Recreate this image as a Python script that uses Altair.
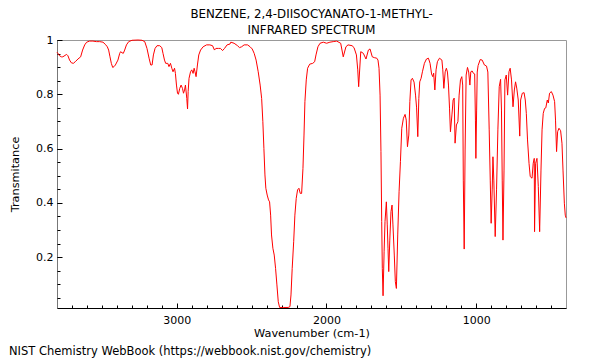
import altair as alt
import pandas as pd

title_lines = ["BENZENE, 2,4-DIISOCYANATO-1-METHYL-", "INFRARED SPECTRUM"]
x_title = "Wavenumber (cm-1)"
y_title = "Transmitance"
footer = "NIST Chemistry WebBook (https://webbook.nist.gov/chemistry)"

wavenumber = [3800,3794,3783,3771,3761,3736,3727,3716,3704,3691,
3678,3660,3642,3629,3615,3602,3582,3560,3537,3515,
3493,3477,3464,3455,3446,3437,3428,3419,3410,3393,
3381,3375,3366,3357,3348,3336,3321,3299,3259,3232,
3214,3199,3185,3174,3165,3156,3145,3132,3114,3100,
3092,3082,3074,3060,3052,3042,3033,3025,3015,3009,
3002,2995,2989,2980,2971,2962,2955,2948,2942,2933,
2928,2924,2918,2908,2900,2891,2884,2878,2871,2862,
2853,2841,2824,2801,2779,2761,2748,2739,2721,2708,
2694,2681,2664,2645,2639,2617,2594,2581,2567,2550,
2527,2510,2496,2483,2470,2456,2443,2433,2425,2418,
2411,2405,2396,2387,2380,2373,2367,2358,2349,2340,
2331,2322,2313,2289,2256,2244,2237,2229,2219,2211,
2202,2193,2184,2175,2166,2157,2150,2144,2135,2126,
2112,2092,2079,2070,2057,2043,2021,1999,1977,1955,
1932,1905,1888,1870,1856,1829,1816,1800,1791,1785,
1771,1754,1736,1720,1709,1694,1680,1664,1656,1649,
1642,1636,1631,1627,1622,1615,1609,1600,1594,1589,
1584,1577,1569,1562,1556,1547,1540,1533,1524,1515,
1506,1497,1486,1475,1467,1459,1450,1443,1435,1426,
1415,1405,1398,1390,1383,1377,1368,1359,1346,1332,
1319,1308,1298,1290,1284,1276,1268,1259,1245,1229,
1223,1216,1207,1199,1192,1185,1178,1172,1162,1154,
1147,1141,1132,1122,1114,1105,1096,1090,1086,1080,
1074,1067,1058,1050,1042,1036,1027,1018,1010,1005,
1002,997,993,987,973,960,945,931,922,913,
906,900,893,888,882,873,864,855,846,837,
831,826,821,814,808,799,790,781,773,764,
754,745,737,729,719,709,703,692,680,672,
665,657,647,639,627,619,612,610,603,594,
585,576,567,560,552,543,535,525,518,510,
498,487,476,470,463,456,447,436,427,420,
411,405,400]

transmittance = [0.955,0.951,0.942,0.938,0.938,0.947,0.942,0.926,0.916,0.914,
0.920,0.930,0.938,0.963,0.982,0.992,0.996,0.996,0.994,0.994,
0.992,0.984,0.975,0.963,0.938,0.914,0.899,0.902,0.908,0.926,
0.951,0.957,0.953,0.951,0.963,0.982,0.994,0.999,1.0,0.999,
0.994,0.969,0.933,0.908,0.908,0.945,0.969,0.979,0.979,0.972,
0.951,0.926,0.914,0.914,0.902,0.914,0.896,0.883,0.896,0.877,
0.834,0.804,0.800,0.822,0.834,0.822,0.804,0.816,0.834,0.785,
0.746,0.810,0.859,0.883,0.890,0.877,0.896,0.883,0.865,0.908,
0.945,0.963,0.975,0.982,0.982,0.979,0.963,0.969,0.969,0.969,
0.961,0.969,0.982,0.985,0.992,0.988,0.979,0.972,0.975,0.982,
0.982,0.975,0.967,0.951,0.926,0.883,0.834,0.785,0.699,0.601,
0.503,0.454,0.429,0.411,0.404,0.355,0.282,0.233,0.208,0.159,
0.098,0.036,0.015,0.015,0.015,0.018,0.061,0.159,0.257,0.355,
0.417,0.448,0.454,0.435,0.435,0.527,0.650,0.773,0.853,0.896,
0.911,0.914,0.920,0.945,0.975,0.988,0.992,0.988,0.992,0.994,
0.996,0.988,0.938,0.975,0.982,0.979,0.972,0.945,0.890,0.828,
0.957,0.951,0.930,0.963,0.967,0.938,0.935,0.933,0.926,0.896,
0.797,0.589,0.331,0.159,0.058,0.220,0.331,0.404,0.319,0.233,
0.147,0.263,0.368,0.392,0.319,0.208,0.110,0.085,0.282,0.441,
0.552,0.675,0.712,0.726,0.705,0.607,0.650,0.773,0.853,0.859,
0.845,0.797,0.750,0.644,0.785,0.846,0.859,0.883,0.914,0.930,
0.933,0.914,0.875,0.865,0.878,0.816,0.890,0.920,0.933,0.926,
0.890,0.822,0.883,0.896,0.882,0.834,0.749,0.662,0.724,0.779,
0.786,0.620,0.687,0.699,0.797,0.853,0.865,0.834,0.484,0.230,
0.595,0.871,0.899,0.882,0.834,0.883,0.886,0.877,0.875,0.705,
0.564,0.742,0.882,0.906,0.928,0.926,0.908,0.904,0.882,0.669,
0.484,0.325,0.448,0.570,0.484,0.276,0.448,0.669,0.828,0.855,
0.742,0.484,0.263,0.521,0.853,0.871,0.797,0.883,0.896,0.853,
0.754,0.816,0.846,0.823,0.779,0.646,0.779,0.804,0.806,0.779,
0.730,0.632,0.546,0.497,0.491,0.546,0.564,0.294,0.546,0.564,
0.460,0.294,0.521,0.669,0.730,0.748,0.750,0.779,0.768,0.804,
0.810,0.797,0.773,0.705,0.589,0.662,0.675,0.666,0.620,0.521,
0.399,0.355,0.345]

x_major = [1000, 2000, 3000]
x_minor = list(range(500, 3801, 100))
y_major = [0.2, 0.4, 0.6, 0.8, 1.0]
y_minor = [round(0.05 * i, 2) for i in range(1, 21)]

df = pd.DataFrame({"wavenumber": wavenumber, "transmittance": transmittance})

W, H = 509, 268
xscale = alt.Scale(domain=[400, 3800], reverse=True, nice=False, zero=False)
yscale = alt.Scale(domain=[0.013, 1.0], nice=False, zero=False)

base = alt.Chart(df)

line = base.mark_line(color="#ff0000", strokeWidth=1).encode(
    x=alt.X("wavenumber:Q", scale=xscale, axis=alt.Axis(
        orient="bottom", values=x_major, format="d", ticks=False, tickSize=0,
        domain=True, domainColor="black", domainWidth=1, grid=False,
        labelFontSize=11, labelColor="black", labelPadding=6,
        title=x_title, titleFontSize=11.3, titleFontWeight="normal", titleColor="black",
        titleX=W / 2, titleY=25, titleBaseline="middle", titleAlign="center")),
    y=alt.Y("transmittance:Q", scale=yscale, axis=alt.Axis(
        orient="left", values=y_major, format="~g", ticks=False, tickSize=0,
        domain=True, domainColor="#777", domainWidth=1, grid=False,
        labelFontSize=11, labelColor="black", labelPadding=4,
        title=y_title, titleFontSize=11.3, titleFontWeight="normal", titleColor="black",
        titleX=-42, titleY=H / 2, titleAngle=-90, titleBaseline="middle", titleAlign="center")),
)

def tick_layer(xvals, yvals, size):
    return base.mark_line(strokeOpacity=0).encode(
        x=alt.X("wavenumber:Q", scale=xscale, title="", axis=alt.Axis(
            orient="bottom", values=xvals, ticks=True, tickSize=size, tickColor="black",
            tickWidth=1, offset=-size, labels=False, domain=False, grid=False)),
        y=alt.Y("transmittance:Q", scale=yscale, title="", axis=alt.Axis(
            orient="left", values=yvals, ticks=True, tickSize=size, tickColor="black",
            tickWidth=1, offset=-size, labels=False, domain=False, grid=False)),
    )

major_ticks = tick_layer(x_major, y_major, 5)
minor_ticks = tick_layer(x_minor, y_minor, 3)

foot = alt.Chart(pd.DataFrame({"t": [footer]})).mark_text(
    align="left", baseline="alphabetic", fontSize=11.5, color="black"
).encode(x=alt.value(-48), y=alt.value(315), text="t:N")

chart = alt.layer(line, major_ticks, minor_ticks, foot).resolve_axis(
    x="independent", y="independent"
).properties(
    width=W, height=H,
    title=alt.TitleParams(text=title_lines, fontSize=11.8, fontWeight="normal",
                          color="black", anchor="middle", lineHeight=16, offset=-3),
    autosize=alt.AutoSizeParams(type="none"),
    padding={"left": 49, "top": 32, "right": 26, "bottom": 52},
    background="white",
).configure(font="DejaVu Sans").configure_view(stroke="#999", strokeWidth=1)

chart.save("out.html", embed_options={"renderer": "svg", "actions": False})
